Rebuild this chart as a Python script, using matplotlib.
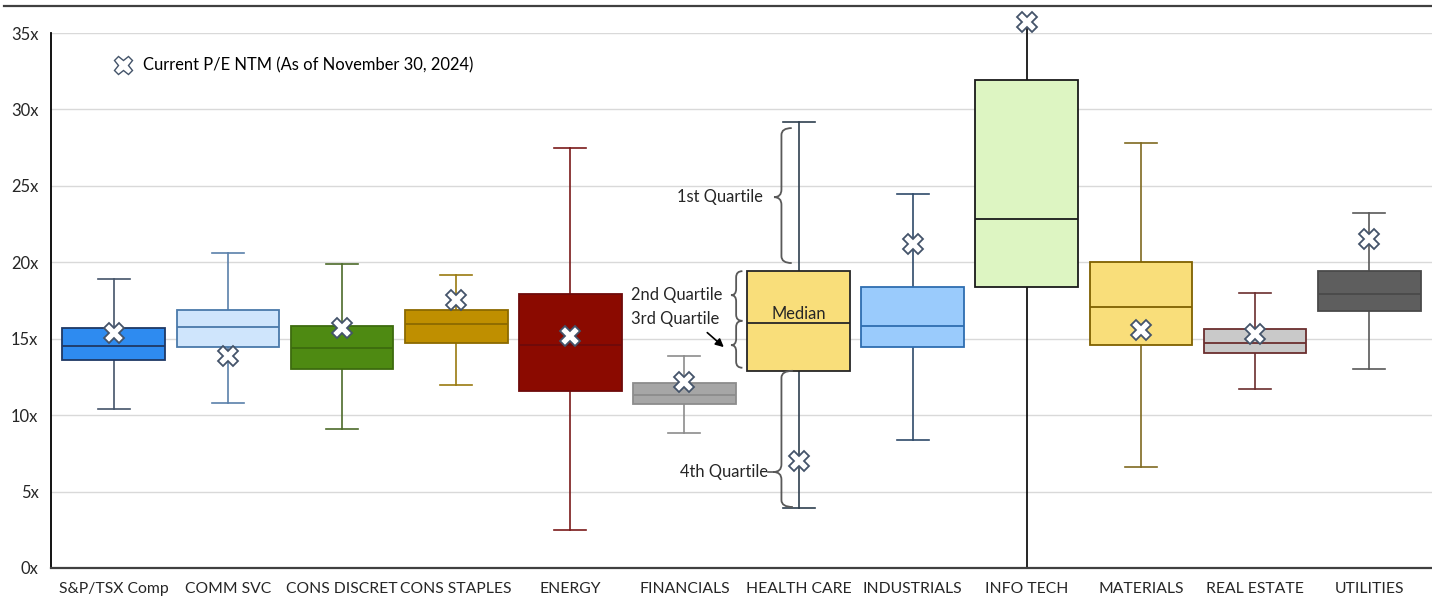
import matplotlib
matplotlib.use("Agg")
import matplotlib.pyplot as plt
from matplotlib.path import Path
from matplotlib.patches import PathPatch
from matplotlib.lines import Line2D

categories = ["S&P/TSX Comp", "COMM SVC", "CONS DISCRET", "CONS STAPLES", "ENERGY",
              "FINANCIALS", "HEALTH CARE", "INDUSTRIALS", "INFO TECH", "MATERIALS",
              "REAL ESTATE", "UTILITIES"]
whislo = [10.4, 10.8, 9.1, 12.0, 2.5, 8.8, 3.9, 8.35, 0.0, 6.6, 11.7, 13.0]
q1 = [13.6, 14.45, 13.05, 14.7, 11.55, 10.7, 12.9, 14.45, 18.4, 14.6, 14.05, 16.8]
med = [14.55, 15.75, 14.4, 15.95, 14.6, 11.35, 16.05, 15.85, 22.8, 17.05, 14.7, 17.95]
q3 = [15.7, 16.9, 15.8, 16.9, 17.95, 12.1, 19.4, 18.4, 31.95, 20.0, 15.65, 19.4]
whishi = [18.9, 20.6, 19.9, 19.2, 27.45, 13.85, 29.2, 24.45, 35.7, 27.8, 18.0, 23.2]
current_pe = [15.35, 13.9, 15.7, 17.55, 15.2, 12.15, 7.0, 21.2, 35.7, 15.6, 15.3, 21.5]
yticks = [0, 5, 10, 15, 20, 25, 30, 35]
ytick_labels = ["0x", "5x", "10x", "15x", "20x", "25x", "30x", "35x"]
legend_label = "Current P/E NTM (As of November 30, 2024)"

fill_colors = ["#2E8BF0", "#CFE5FC", "#4E8A12", "#BF8F00", "#8B0A00", "#A6A6A6",
               "#F9DE7A", "#9ACBFC", "#DDF5C2", "#F9DE7A", "#C9C9C9", "#5E5E5E"]
edge_colors = ["#1F3864", "#4A79AA", "#3D6B0E", "#8C6A00", "#6E0A0A", "#8C8C8C",
               "#262626", "#2E6DB0", "#1A1A1A", "#7F6000", "#6B2E2E", "#4A4A4A"]
whisk_colors = ["#44546A", "#5A80AA", "#4D6B2A", "#9A7A10", "#7A1A1A", "#8C8C8C",
                "#2F3F4F", "#2F4A6A", "#000000", "#7F6A20", "#6B2E2E", "#595959"]

plt.rcParams["font.family"] = ["Lato", "DejaVu Sans"]
FS = 11.9

fig = plt.figure(figsize=(14.32, 5.97), dpi=100)
ax = fig.add_axes([51 / 1432, 1 - 568 / 597, 1 - 51 / 1432, (568 - 33) / 597])

stats = []
for i in range(len(categories)):
    stats.append(dict(med=med[i], q1=q1[i], q3=q3[i], whislo=whislo[i],
                      whishi=whishi[i], fliers=[], label=categories[i]))
pos = list(range(len(categories)))
bp = ax.bxp(stats, positions=pos, widths=0.9, capwidths=0.28, patch_artist=True,
            showfliers=False, manage_ticks=False)
for i in range(len(categories)):
    b = bp["boxes"][i]
    b.set_facecolor(fill_colors[i])
    b.set_edgecolor(edge_colors[i])
    b.set_linewidth(1.3)
    b.set_zorder(3)
    m = bp["medians"][i]
    m.set_color(edge_colors[i])
    m.set_linewidth(1.3)
    m.set_zorder(4)
    for k in (2 * i, 2 * i + 1):
        w = bp["whiskers"][k]
        w.set_color(whisk_colors[i])
        w.set_linewidth(1.2)
        w.set_clip_on(False)
        w.set_zorder(2)
        c = bp["caps"][k]
        c.set_color(whisk_colors[i])
        c.set_linewidth(1.2)
        c.set_zorder(2)
# INFO TECH: range runs to the current marker, no visible caps
bp["caps"][2 * 8].set_visible(False)
bp["caps"][2 * 8 + 1].set_visible(False)

ax.plot(pos, current_pe, linestyle="none", marker="X", markersize=15,
        markerfacecolor="white", markeredgecolor="#44546A", markeredgewidth=1.3,
        zorder=6, clip_on=False)

ax.set_xlim(-0.55, len(categories) - 0.45)
ax.set_ylim(0, 35)
ax.set_yticks(yticks)
ax.set_yticklabels(ytick_labels)
ax.set_xticks(pos)
ax.set_xticklabels(categories)
ax.tick_params(axis="both", length=0, labelsize=FS, colors="#262626")
ax.tick_params(axis="x", pad=10, labelsize=11.3)
ax.tick_params(axis="y", pad=9)
ax.grid(axis="y", color="#D9D9D9", linewidth=1.0, zorder=0)
ax.set_axisbelow(True)
for s in ("top", "right"):
    ax.spines[s].set_visible(False)
ax.spines["left"].set_color("#000000")
ax.spines["left"].set_linewidth(1.3)
ax.spines["bottom"].set_color("#404040")
ax.spines["bottom"].set_linewidth(1.6)

# legend
h = Line2D([], [], linestyle="none", marker="X", markersize=13, markerfacecolor="white",
           markeredgecolor="#44546A", markeredgewidth=1.0)
ax.legend([h], [legend_label], loc="upper left", bbox_to_anchor=(0.040, 0.966),
          frameon=False, fontsize=FS, handletextpad=0.6, handlelength=1.2,
          borderaxespad=0)

# braces annotation on HEALTH CARE
def brace(x, y0, y1, ytip, tip_dx, end_dx, r, rt):
    verts = [(x + end_dx, y1), (x, y1), (x, y1 - r),
             (x, ytip + rt), (x, ytip), (x - tip_dx, ytip),
             (x, ytip), (x, ytip - rt),
             (x, y0 + r), (x, y0), (x + end_dx, y0)]
    codes = [Path.MOVETO, Path.CURVE3, Path.CURVE3,
             Path.LINETO, Path.CURVE3, Path.CURVE3,
             Path.CURVE3, Path.CURVE3,
             Path.LINETO, Path.CURVE3, Path.CURVE3]
    ax.add_patch(PathPatch(Path(verts, codes), facecolor="none", edgecolor="#595959",
                           linewidth=1.3, zorder=5, clip_on=False))

brace(5.85, 19.95, 28.78, 24.26, 0.065, 0.09, 0.45, 0.5)
brace(5.453, 16.17, 19.42, 17.85, 0.045, 0.055, 0.4, 0.4)
brace(5.453, 13.1, 16.17, 14.58, 0.045, 0.055, 0.4, 0.4)
brace(5.85, 3.99, 12.9, 6.28, 0.07, 0.1, 0.45, 0.5)

tc = "#262626"
ax.text(5.69, 24.26, "1st Quartile", ha="right", va="center", fontsize=FS, color=tc)
ax.text(4.53, 17.85, "2nd Quartile", ha="left", va="center", fontsize=FS, color=tc)
ax.text(4.53, 16.28, "3rd Quartile", ha="left", va="center", fontsize=FS, color=tc)
ax.text(5.735, 6.28, "4th Quartile", ha="right", va="center", fontsize=FS, color=tc)
ax.plot([5.735, 5.78], [6.28, 6.28], color="#595959", linewidth=1.2, zorder=5)
ax.text(6, 16.6, "Median", ha="center", va="center", fontsize=FS, color=tc, zorder=6)
ax.annotate("", xy=(5.345, 14.45), xytext=(5.2, 15.4),
            arrowprops=dict(arrowstyle="-|>", color="#000000", lw=1.2,
                            mutation_scale=12, shrinkA=0, shrinkB=0), zorder=6)

fig.add_artist(Line2D([0.003, 1.0], [1 - 6 / 597] * 2, transform=fig.transFigure,
                      color="#404040", linewidth=1.6))

fig.savefig("out.png", dpi=100)
